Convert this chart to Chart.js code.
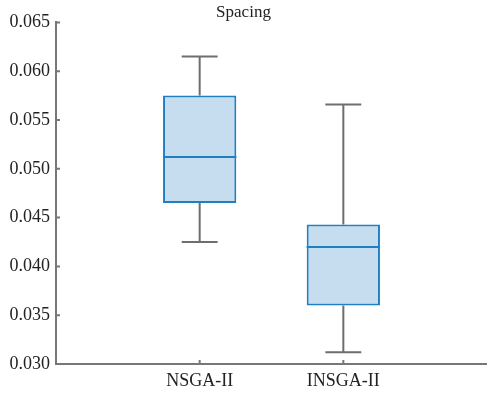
<!DOCTYPE html>
<html>
<head>
<meta charset="utf-8">
<script src="https://cdn.jsdelivr.net/npm/chart.js@4.4.0/dist/chart.umd.min.js"></script>
<style>
  html, body { margin: 0; padding: 0; background: #fff; }
  #wrap { width: 487px; height: 394px; }
</style>
</head>
<body>
<div id="wrap"><canvas id="chartSpacing"></canvas></div>
<script>
// Datos (boxplot de Spacing)
var categorias = ["NSGA-II", "INSGA-II"];
var posiciones = [1, 2];
var bigoteInf = [0.0425, 0.0312];
var cuartil1 = [0.0465, 0.0360];
var mediana = [0.0512, 0.0420];
var cuartil3 = [0.0575, 0.0443];
var bigoteSup = [0.0615, 0.0566];
var ticksY = [0.030, 0.035, 0.040, 0.045, 0.050, 0.055, 0.060, 0.065];

var azul = "#1f7fc2";
var relleno = "#c6ddf0";
var gris = "#6e6e6e";
var ejeColor = "#777777";
var fuente = "'Liberation Serif', 'DejaVu Serif', serif";

// Bigotes, tapas y medianas dibujados con las escalas del gráfico
var boxPlugin = {
    id: "boxExtras",
    beforeDatasetsDraw: function (chart) {
        var ctx = chart.ctx, x = chart.scales.x, y = chart.scales.y;
        ctx.save();
        ctx.strokeStyle = gris;
        ctx.lineWidth = 2;
        posiciones.forEach(function (p, i) {
            var px = x.getPixelForValue(p);
            var half = (x.getPixelForValue(p + 0.125) - px);
            ctx.beginPath();
            ctx.moveTo(px, y.getPixelForValue(bigoteSup[i]));
            ctx.lineTo(px, y.getPixelForValue(cuartil3[i]));
            ctx.moveTo(px, y.getPixelForValue(cuartil1[i]));
            ctx.lineTo(px, y.getPixelForValue(bigoteInf[i]));
            ctx.moveTo(px - half, y.getPixelForValue(bigoteSup[i]));
            ctx.lineTo(px + half, y.getPixelForValue(bigoteSup[i]));
            ctx.moveTo(px - half, y.getPixelForValue(bigoteInf[i]));
            ctx.lineTo(px + half, y.getPixelForValue(bigoteInf[i]));
            ctx.stroke();
        });
        ctx.restore();
    },
    afterDatasetsDraw: function (chart) {
        var ctx = chart.ctx, x = chart.scales.x, y = chart.scales.y;
        var meta = chart.getDatasetMeta(0);
        ctx.save();
        ctx.strokeStyle = azul;
        ctx.lineWidth = 2;
        meta.data.forEach(function (bar, i) {
            var py = y.getPixelForValue(mediana[i]);
            ctx.beginPath();
            ctx.moveTo(bar.x - bar.width / 2, py);
            ctx.lineTo(bar.x + bar.width / 2, py);
            ctx.stroke();
        });
        // marcas hacia dentro en los ejes
        ctx.strokeStyle = ejeColor;
        ctx.lineWidth = 2;
        ctx.beginPath();
        ticksY.forEach(function (v) {
            var py = y.getPixelForValue(v);
            ctx.moveTo(x.left, py);
            ctx.lineTo(x.left + 4, py);
        });
        posiciones.forEach(function (p) {
            var px = x.getPixelForValue(p);
            ctx.moveTo(px, y.bottom);
            ctx.lineTo(px, y.bottom - 4);
        });
        ctx.stroke();
        ctx.restore();
    }
};

new Chart(document.getElementById("chartSpacing"), {
    type: "bar",
    data: {
        datasets: [
            {
                label: "Spacing",
                data: posiciones.map(function (p, i) {
                    return { x: p, y: [cuartil1[i], cuartil3[i]] };
                }),
                backgroundColor: relleno,
                borderColor: azul,
                borderWidth: 2,
                borderSkipped: false,
                barPercentage: 0.51,
                categoryPercentage: 1.0,
            },
        ],
    },
    options: {
        responsive: true,
        maintainAspectRatio: false,
        animation: false,
        layout: { padding: 0 },
        plugins: {
            legend: { display: false },
            tooltip: { enabled: false },
            title: {
                display: true,
                text: "Spacing",
                color: "#222",
                font: { family: fuente, size: 17, weight: "normal", lineHeight: 1.2 },
                padding: { top: 2, bottom: 0 },
            },
        },
        scales: {
            x: {
                type: "linear",
                min: 0,
                max: 3,
                offset: false,
                afterBuildTicks: function (scale) {
                    scale.ticks = [0, 1, 2, 3].map(function (v) { return { value: v }; });
                },
                afterFit: function (scale) {
                    scale.height = 30;
                    scale.paddingRight = 0;
                    scale.paddingLeft = 0;
                },
                grid: { drawOnChartArea: false, drawTicks: false, offset: false },
                border: { display: true, color: ejeColor, width: 2 },
                ticks: {
                    padding: 6,
                    color: "#222",
                    font: { family: fuente, size: 18 },
                    callback: function (v) {
                        var i = posiciones.indexOf(v);
                        return i >= 0 ? categorias[i] : "";
                    },
                },
            },
            y: {
                min: 0.030,
                max: 0.065,
                afterBuildTicks: function (scale) {
                    scale.ticks = ticksY.map(function (v) { return { value: v }; });
                },
                afterFit: function (scale) { scale.width = 56; },
                grid: { drawOnChartArea: false, drawTicks: false },
                border: { display: true, color: ejeColor, width: 2 },
                ticks: {
                    padding: 6,
                    color: "#222",
                    font: { family: fuente, size: 18 },
                    callback: function (v) { return v.toFixed(3); },
                },
            },
        },
    },
    plugins: [boxPlugin],
});
</script>
</body>
</html>
